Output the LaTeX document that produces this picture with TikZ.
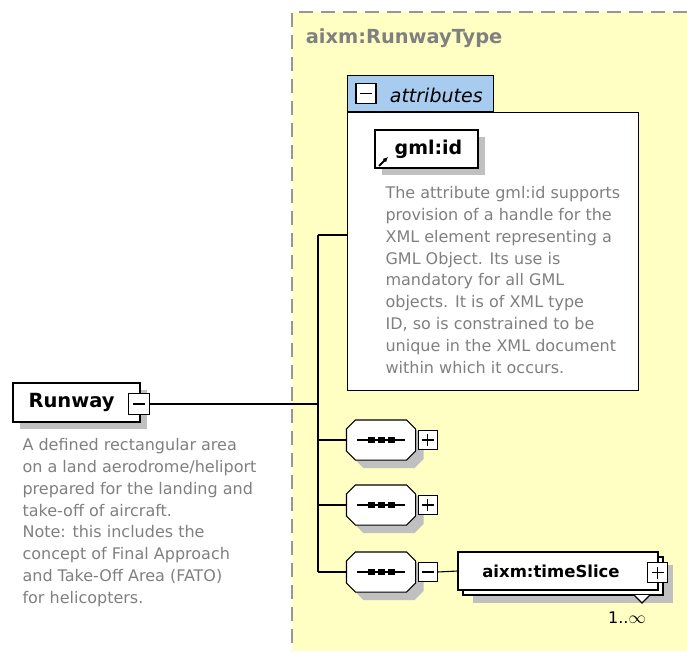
\documentclass[tikz,border=0pt]{standalone}
\usepackage{fontspec}
\setmainfont{DejaVu Sans}
\usepackage{tikz}
\usetikzlibrary{arrows.meta,positioning,shadows}

\definecolor{typeyellow}{RGB}{255,255,196}
\definecolor{tabblue}{RGB}{168,204,240}
\definecolor{shadowgray}{RGB}{192,192,192}
\definecolor{notegray}{RGB}{128,128,128}
\definecolor{dashgray}{RGB}{150,150,150}

\begin{document}
\begin{tikzpicture}[x=1pt, y=-1pt, line width=1.1pt,
    element/.style={rectangle, draw, fill=white, font=\fontsize{19.5}{22}\selectfont\bfseries,
        drop shadow={shadow xshift=7pt, shadow yshift=-7pt, opacity=1, fill=shadowgray}},
    sequence/.style={rectangle, minimum width=68pt, minimum height=39pt, inner sep=0pt},
    toggle/.style={rectangle, draw, fill=white, minimum size=19pt, inner sep=0pt},
    note/.style={align=left, inner sep=0pt, text=notegray, font=\fontsize{16}{21.8}\selectfont},
    wire/.style={line width=1.1pt},
]
\useasboundingbox (0,0) rectangle (687,651);
\fill[white] (0,0) rectangle (687,651);

% complex type area
\fill[typeyellow] (292,12) rectangle (687,651);
\draw[draw=dashgray, dash pattern=on 14pt off 8pt] (687,12) -- (292,12) -- (292,651);
\node[anchor=west, text=notegray, font=\fontsize{19.4}{22}\selectfont\bfseries] (typename) at (302,38) {aixm:RunwayType};

% attributes group
\node[draw, fill=white, minimum width=291pt, minimum height=278pt, anchor=north west] (attrbox) at (347,112) {};
\node[draw, fill=tabblue, minimum width=146pt, minimum height=36pt, anchor=south west] (attrtab) at (347,112) {};
\node[toggle, minimum size=20pt] (attrminus) at (366,93.5) {};
\draw ([xshift=-6pt]attrminus.center) -- ([xshift=6pt]attrminus.center);
\node[anchor=west, font=\fontsize{19}{22}\selectfont\itshape] (attrlabel) at (386,95) {attributes};

\node[element, font=\fontsize{19}{22}\selectfont\bfseries, minimum width=103pt, minimum height=38pt] (gmlid) at (426.5,149) {\hspace{4pt}gml:id};
\coordinate (refa) at (379,166);
\coordinate (refb) at (388,157);
\draw[-{Latex[length=5pt,width=5pt]}, line width=1.8pt] (refa) -- (refb);
\node[note, anchor=north west] (gmlnote) at (385,186) {The attribute gml:id supports\\provision of a handle for the\\XML element representing a\\GML Object. Its use is\\mandatory for all GML\\objects. It is of XML type\\ID, so is constrained to be\\unique in the XML document\\within which it occurs.};

% root element
\node[element, minimum width=127pt, minimum height=39pt, text width=120pt, align=left, inner xsep=0pt] (runway) at (76.5,402.5) {\hspace{12pt}Runway};
\node[toggle, minimum size=21pt] (runwayminus) at (139,404) {};
\draw ([xshift=-6pt]runwayminus.center) -- ([xshift=6pt]runwayminus.center);
\node[note, anchor=north west] (runwaynote) at (22,438) {A defined rectangular area\\on a land aerodrome/heliport\\prepared for the landing and\\take-off of aircraft.\\Note: this includes the\\concept of Final Approach\\and Take-Off Area (FATO)\\for helicopters.};

% sequences
\node[sequence] (seqA) at (381,440) {};
\node[sequence] (seqB) at (381,505) {};
\node[sequence] (seqC) at (381,572) {};
\foreach \s in {seqA,seqB,seqC} {
  \fill[shadowgray, transform canvas={xshift=8pt, yshift=-8pt}]
    ([xshift=9pt]\s.north west) -- ([xshift=-9pt]\s.north east) -- ([yshift=-9pt]\s.north east)
    -- ([yshift=9pt]\s.south east) -- ([xshift=-9pt]\s.south east) -- ([xshift=9pt]\s.south west)
    -- ([yshift=9pt]\s.south west) -- ([yshift=-9pt]\s.north west) -- cycle;
  \filldraw[fill=white]
    ([xshift=9pt]\s.north west) -- ([xshift=-9pt]\s.north east) -- ([yshift=-9pt]\s.north east)
    -- ([yshift=9pt]\s.south east) -- ([xshift=-9pt]\s.south east) -- ([xshift=9pt]\s.south west)
    -- ([yshift=9pt]\s.south west) -- ([yshift=-9pt]\s.north west) -- cycle;
  \draw ([xshift=-24pt]\s.center) -- ([xshift=24pt]\s.center);
  \foreach \dx in {-10,0,10}
    \fill ([xshift=\dx pt]\s.center) +(-3.5,-3) rectangle +(3.5,3);
}
\node[toggle, right=2pt of seqA] (plusA) {};
\node[toggle, right=2pt of seqB] (plusB) {};
\node[toggle, right=2pt of seqC] (minusC) {};
\foreach \t in {plusA,plusB} {
  \draw ([xshift=-6pt]\t.center) -- ([xshift=6pt]\t.center);
  \draw ([yshift=-6pt]\t.center) -- ([yshift=6pt]\t.center);
}
\draw ([xshift=-6pt]minusC.center) -- ([xshift=6pt]minusC.center);

% timeSlice element (repeated)
\node[rectangle, draw, fill=white, minimum width=200pt, minimum height=38pt,
    drop shadow={shadow xshift=10pt, shadow yshift=-8pt, opacity=1, fill=shadowgray}] (sliceback) at (563,576) {};
\node[rectangle, draw, fill=white, minimum width=200pt, minimum height=38pt, inner sep=0pt,
    font=\fontsize{16.5}{20}\selectfont\bfseries] (slice) at (558,571) {\hspace{-14pt}aixm:timeSlice};
\node[toggle, minimum size=20pt] (sliceplus) at (657.5,572.5) {};
\draw ([xshift=-6pt]sliceplus.center) -- ([xshift=6pt]sliceplus.center);
\draw ([yshift=-6pt]sliceplus.center) -- ([yshift=6pt]sliceplus.center);
\coordinate (tria) at (634,595);
\coordinate (trib) at (650,595);
\coordinate (tric) at (642,603);
\filldraw[fill=white] (tria) -- (tric) -- (trib);
\node[font=\fontsize{16}{18}\selectfont] (slicecount) at (627,618) {1..$\infty$};

% connectors
\coordinate (spine) at (318,404);
\draw[wire] (runwayminus.east) -- (spine);
\draw[wire] (318,235) -- (318,572);
\draw[wire] (318,235) -- (attrbox.west |- 0,235);
\draw[wire] (318,440) -- (seqA.west);
\draw[wire] (318,505) -- (seqB.west);
\draw[wire] (318,572) -- (seqC.west);
\draw[wire] (minusC.east) -- (slice.west);
\end{tikzpicture}
\end{document}
